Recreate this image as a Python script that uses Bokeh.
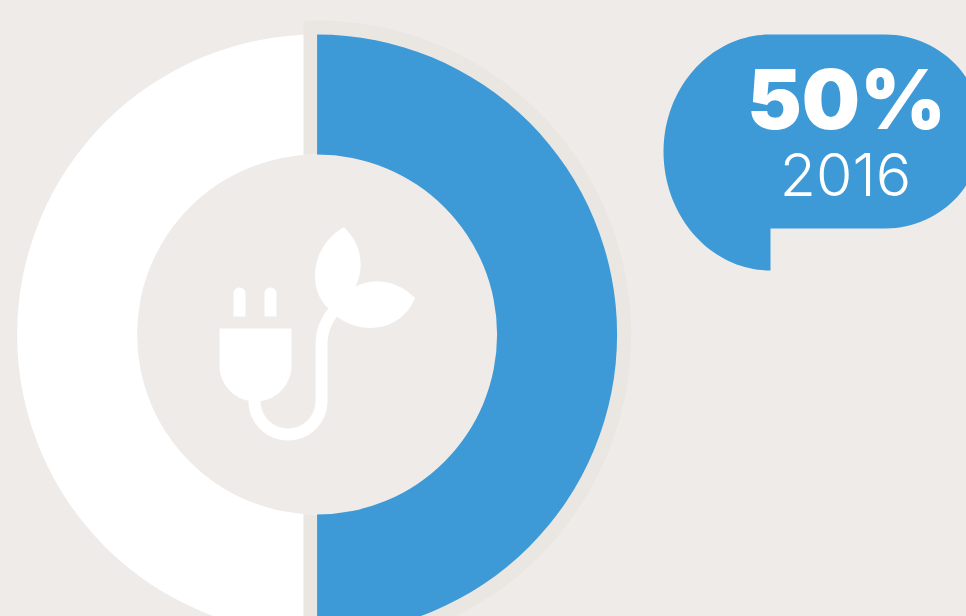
import numpy as np
from bokeh.plotting import figure
from bokeh.models import Range1d
from bokeh.core.properties import value
from bokeh.embed import file_html
from bokeh.resources import INLINE

# Data
categories = ["Renewable", "Other"]
shares = [50, 50]
year_label = "2016"
share_label = "50%"

BG = "#EFEBE8"
SHADOW = "#EAE6E2"
BLUE = "#3D9AD7"
WHITE = "#FFFFFF"

W, H = 966, 616
p = figure(width=W, height=H, output_backend="svg", toolbar_location=None,
           x_range=Range1d(0, W), y_range=Range1d(0, H), min_border=0,
           background_fill_color=BG, border_fill_color=BG, outline_line_color=None)
p.axis.visible = False
p.grid.visible = False


def Y(v):
    return H - np.asarray(v, dtype=float)


def bez(p0, c1, c2, p3, n=40):
    t = np.linspace(0, 1, n)[:, None]
    a, b, c, d = map(np.array, (p0, c1, c2, p3))
    return (1 - t) ** 3 * a + 3 * (1 - t) ** 2 * t * b + 3 * (1 - t) * t ** 2 * c + t ** 3 * d


def arc(cx, cy, rx, ry, a0, a1, n=80):
    a = np.radians(np.linspace(a0, a1, n))
    return np.column_stack([cx + rx * np.cos(a), cy + ry * np.sin(a)])


def fill(pts, color):
    pts = np.vstack(pts)
    p.patch(pts[:, 0], Y(pts[:, 1]), fill_color=color, line_color=None)


# Donut
cx, cy, r_in, r_out = 316.6, 334, 180, 300
total = sum(shares)
angles = np.pi / 2 + np.cumsum([0] + shares) / total * 2 * np.pi
# White half
p.annular_wedge(cx, Y(cy), r_in, r_out, angles[0], angles[1], fill_color=WHITE, line_color=None)
# Raised shadow behind the blue half
r_sh = 314
left = 303
oa = np.degrees(np.arcsin((cx - left) / r_sh))
ia = np.degrees(np.arcsin((cx - left) / r_in))
fill([arc(cx, cy, r_sh, r_sh, -90 - oa, 90 + oa, 200),
      arc(cx, cy, r_in, r_in, 90 + ia, -90 - ia, 200)], SHADOW)
# Blue half
p.annular_wedge(cx, Y(cy), r_in, r_out, angles[1], angles[2], fill_color=BLUE, line_color=None)

# Icon: plug
fill([[(219, 328), (291, 328), (291, 365)], arc(255, 365, 36, 36, 0, 180, 50), [(219, 328)]], WHITE)
for x0 in (233, 264):
    fill([[(x0, 316)], arc(x0 + 6, 293, 6, 6, 180, 360, 20), [(x0 + 12, 316)]], WHITE)
# Icon: cable
cable = np.vstack([[(254, 398)], arc(287.5, 400.5, 33.5, 33.5, 180, 0, 50),
                   [(321, 345)], bez((321, 345), (321, 330), (326, 318), (336, 308))])
p.line(cable[:, 0], Y(cable[:, 1]), line_color=WHITE, line_width=12, line_cap="butt", line_join="round")
# Icon: leaves
fill([bez((343.3, 226.7), (360, 242), (365, 265), (355, 286)),
      [(336, 316), (326, 306)],
      bez((326, 306), (309, 290), (308, 247), (343.3, 226.7))], WHITE)
fill([bez((355, 286), (378, 275), (400, 283), (414.5, 297.5)),
      bez((414.5, 297.5), (400, 332), (360, 335), (335, 315)),
      [(326, 300)]], WHITE)

# Bubble
fill([[(770, 34), (885, 34)], arc(885, 131, 97, 97, -90, 90, 60), [(770, 228), (770, 270)],
      arc(770, 151, 107, 119, 90, 180, 40), arc(770, 151, 107, 117, 180, 270, 40)], BLUE)
p.text([846], Y([99]), text=[share_label], text_align="center", text_baseline="alphabetic",
       text_color=WHITE, text_font=value("Inter Black, Inter"), text_font_style="bold", text_font_size="82px")
p.text([845], Y([174]), text=[year_label], text_align="center", text_baseline="alphabetic",
       text_color=WHITE, text_font=value("Inter Light, Inter"), text_font_size="59px")

html = file_html(p, INLINE)
html = html.replace("<head>", f"<head><style>html,body{{background:{BG};overflow:hidden}}</style>", 1)
open("out.html", "w").write(html)
